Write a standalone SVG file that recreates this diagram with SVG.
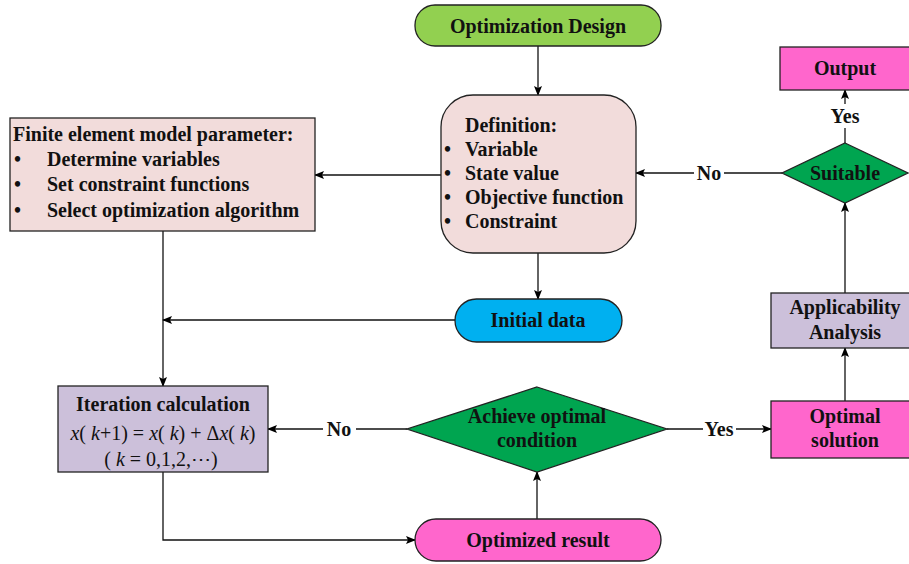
<svg xmlns="http://www.w3.org/2000/svg" width="909" height="564" viewBox="0 0 909 564">
<defs>
<marker id="ah" markerWidth="10" markerHeight="8" refX="9" refY="4" orient="auto" markerUnits="userSpaceOnUse">
<path d="M0,0 L10,4 L0,8 L2,4 Z" fill="#000"/>
</marker>
<style>
.b{stroke:#222;stroke-width:1.3}
.t{font-family:"Liberation Serif","Times New Roman",serif;font-weight:bold;font-size:20px;fill:#111}
.m{font-family:"Liberation Serif","Times New Roman",serif;font-size:20px;fill:#111}
.c{text-anchor:middle}
.l{fill:none;stroke:#111;stroke-width:1.3}
</style>
</defs>
<rect width="909" height="564" fill="#fff"/>
<g id="connectors">
<line class="l" x1="538" y1="46" x2="538" y2="95" marker-end="url(#ah)"/>
<line class="l" x1="441" y1="175" x2="315" y2="175" marker-end="url(#ah)"/>
<line class="l" x1="538" y1="253" x2="538" y2="299" marker-end="url(#ah)"/>
<line class="l" x1="455" y1="320" x2="163" y2="320" marker-end="url(#ah)"/>
<line class="l" x1="163" y1="231" x2="163" y2="386" marker-end="url(#ah)"/>
<line class="l" x1="407" y1="429" x2="356" y2="429"/>
<line class="l" x1="323" y1="429" x2="268" y2="429" marker-end="url(#ah)"/>
<line class="l" x1="667" y1="429" x2="703" y2="429"/>
<line class="l" x1="736" y1="429" x2="771" y2="429" marker-end="url(#ah)"/>
<polyline class="l" points="163,472 163,540 415,540" marker-end="url(#ah)"/>
<line class="l" x1="537" y1="519" x2="537" y2="472" marker-end="url(#ah)"/>
<line class="l" x1="845" y1="401" x2="845" y2="348" marker-end="url(#ah)"/>
<line class="l" x1="845" y1="293" x2="845" y2="203" marker-end="url(#ah)"/>
<line class="l" x1="782" y1="173" x2="724" y2="173"/>
<line class="l" x1="694" y1="173" x2="636" y2="173" marker-end="url(#ah)"/>
<line class="l" x1="845" y1="143" x2="845" y2="128"/>
<line class="l" x1="845" y1="104" x2="845" y2="90" marker-end="url(#ah)"/>
<text class="t c" x="339" y="436">No</text>
<text class="t c" x="719" y="436">Yes</text>
<text class="t c" x="709" y="180">No</text>
<text class="t c" x="845" y="123">Yes</text>
</g>
<g id="optimization-design">
<rect class="b" x="415" y="5" width="246" height="41" rx="20" fill="#92d050"/>
<text class="t c" x="538" y="33">Optimization Design</text>
</g>
<g id="definition">
<rect class="b" x="441" y="95" width="195" height="158" rx="32" fill="#f2dcdb"/>
<text class="t" x="465" y="132">Definition:</text>
<text class="t" x="444" y="156">•</text><text class="t" x="465" y="156">Variable</text>
<text class="t" x="444" y="180">•</text><text class="t" x="465" y="180">State value</text>
<text class="t" x="444" y="204">•</text><text class="t" x="465" y="204">Objective function</text>
<text class="t" x="444" y="228">•</text><text class="t" x="465" y="228">Constraint</text>
</g>
<g id="fem-parameter">
<rect class="b" x="10" y="118" width="305" height="113" fill="#f2dcdb"/>
<text class="t" x="13" y="141">Finite element model parameter:</text>
<text class="t" x="14" y="166">•</text><text class="t" x="47" y="166">Determine variables</text>
<text class="t" x="14" y="191">•</text><text class="t" x="47" y="191">Set constraint functions</text>
<text class="t" x="14" y="217">•</text><text class="t" x="47" y="217">Select optimization algorithm</text>
</g>
<g id="initial-data">
<rect class="b" x="455" y="299" width="167" height="43" rx="21.5" fill="#00b0f0"/>
<text class="t c" x="538" y="327">Initial data</text>
</g>
<g id="iteration">
<rect class="b" x="58" y="386" width="210" height="86" fill="#ccc0da"/>
<text class="t c" x="163" y="411">Iteration calculation</text>
<text class="m c" x="163" y="440"><tspan font-style="italic">x</tspan>( <tspan font-style="italic">k</tspan>+1) = <tspan font-style="italic">x</tspan>( <tspan font-style="italic">k</tspan>) + Δ<tspan font-style="italic">x</tspan>( <tspan font-style="italic">k</tspan>)</text>
<text class="m c" x="161" y="466">( <tspan font-style="italic">k</tspan> = 0,1,2,⋯)</text>
</g>
<g id="achieve-optimal">
<polygon class="b" points="537,387 667,429 537,472 407,429" fill="#00a550"/>
<text class="t c" x="537" y="423">Achieve optimal</text>
<text class="t c" x="537" y="447">condition</text>
</g>
<g id="optimized-result">
<rect class="b" x="415" y="519" width="246" height="42" rx="21" fill="#ff66cc"/>
<text class="t c" x="538" y="547">Optimized result</text>
</g>
<g id="optimal-solution">
<rect class="b" x="771" y="401" width="140" height="57" fill="#ff66cc"/>
<text class="t c" x="845" y="423">Optimal</text>
<text class="t c" x="845" y="447">solution</text>
</g>
<g id="applicability">
<rect class="b" x="771" y="293" width="140" height="55" fill="#ccc0da"/>
<text class="t c" x="845" y="314">Applicability</text>
<text class="t c" x="845" y="339">Analysis</text>
</g>
<g id="suitable">
<polygon class="b" points="845,143 908,173 845,203 782,173" fill="#00a550"/>
<text class="t c" x="845" y="180">Suitable</text>
</g>
<g id="output">
<rect class="b" x="780" y="47" width="131" height="43" fill="#ff66cc"/>
<text class="t c" x="845" y="75">Output</text>
</g>
</svg>
